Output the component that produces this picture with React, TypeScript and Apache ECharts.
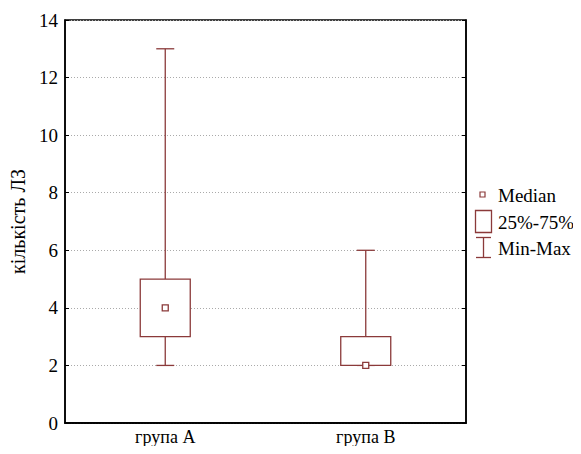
import React, { useEffect, useRef } from "react";
import * as echarts from "echarts";

const categories = ["група A", "група B"];
const minValues = [2, 2];
const q1Values = [3, 2];
const medianValues = [4, 2];
const q3Values = [5, 3];
const maxValues = [13, 6];
const yTicks = { min: 0, max: 14, interval: 2 };
const legendLabels = ["Median", "25%-75%", "Min-Max"];

const COLOR = "#8b3a3a";
const FONT = "Liberation Serif";

export default function App() {
  const ref = useRef<HTMLDivElement>(null);
  useEffect(() => {
    if (!ref.current) return;
    const chart = echarts.init(ref.current, null, { renderer: "svg" });
    const data = categories.map((_, i) => [
      i,
      minValues[i],
      q1Values[i],
      medianValues[i],
      q3Values[i],
      maxValues[i],
    ]);
    const txt = (text: string, y: number) => ({
      type: "text",
      x: 498,
      y,
      style: { text, fill: "#000", fontFamily: FONT, fontSize: 19, verticalAlign: "middle" },
    });
    const option: any = {
      animation: false,
      backgroundColor: "#fff",
      textStyle: { fontFamily: FONT },
      grid: {
        left: 65,
        top: 20,
        right: 115,
        bottom: 31,
        show: true,
        borderColor: "#000",
        borderWidth: 1.5,
      },
      xAxis: [
        {
          type: "category",
          data: categories,
          axisLine: { lineStyle: { color: "#000", width: 1.5 } },
          axisTick: { inside: true, alignWithLabel: true, length: 4, lineStyle: { color: "#000" } },
          axisLabel: { color: "#000", fontFamily: FONT, fontSize: 18, margin: 5 },
        },
        {
          type: "category",
          position: "top",
          data: categories,
          axisLine: { lineStyle: { color: "#000", width: 1.5 } },
          axisTick: { inside: true, alignWithLabel: true, length: 4, lineStyle: { color: "#000" } },
          axisLabel: { show: false },
        },
      ],
      yAxis: [
        {
          type: "value",
          min: yTicks.min,
          max: yTicks.max,
          interval: yTicks.interval,
          name: "кількість ЛЗ",
          nameLocation: "middle",
          nameGap: 32,
          nameTextStyle: { color: "#000", fontFamily: FONT, fontSize: 20 },
          axisLine: { show: true, lineStyle: { color: "#000", width: 1.5 } },
          axisTick: { show: true, inside: true, length: 4, lineStyle: { color: "#000" } },
          axisLabel: { color: "#000", fontFamily: FONT, fontSize: 19, margin: 7 },
          splitLine: { show: true, lineStyle: { color: "#aaa", type: [1, 2], width: 1 } },
        },
        {
          type: "value",
          position: "right",
          min: yTicks.min,
          max: yTicks.max,
          interval: yTicks.interval,
          axisLine: { show: true, lineStyle: { color: "#000", width: 1.5 } },
          axisTick: { show: true, inside: true, length: 4, lineStyle: { color: "#000" } },
          axisLabel: { show: false },
          splitLine: { show: false },
        },
      ],
      series: [
        {
          type: "custom",
          xAxisIndex: 0,
          yAxisIndex: 0,
          data,
          renderItem: (params: any, api: any) => {
            const c = api.value(0);
            const pMin = api.coord([c, api.value(1)]);
            const pQ1 = api.coord([c, api.value(2)]);
            const pMed = api.coord([c, api.value(3)]);
            const pQ3 = api.coord([c, api.value(4)]);
            const pMax = api.coord([c, api.value(5)]);
            const x = pMin[0];
            const bw = 50;
            const cw = 18;
            const ms = 6;
            const ls = { stroke: COLOR, lineWidth: 1.3, fill: null };
            return {
              type: "group",
              children: [
                { type: "line", shape: { x1: x, y1: pMax[1], x2: x, y2: pQ3[1] }, style: ls },
                { type: "line", shape: { x1: x, y1: pQ1[1], x2: x, y2: pMin[1] }, style: ls },
                { type: "line", shape: { x1: x - cw / 2, y1: pMax[1], x2: x + cw / 2, y2: pMax[1] }, style: ls },
                { type: "line", shape: { x1: x - cw / 2, y1: pMin[1], x2: x + cw / 2, y2: pMin[1] }, style: ls },
                {
                  type: "rect",
                  shape: { x: x - bw / 2, y: pQ3[1], width: bw, height: pQ1[1] - pQ3[1] },
                  style: { stroke: COLOR, lineWidth: 1.3, fill: "#fff" },
                },
                {
                  type: "rect",
                  shape: { x: x - ms / 2, y: pMed[1] - ms / 2, width: ms, height: ms },
                  style: { stroke: COLOR, lineWidth: 1.3, fill: "#fff" },
                },
              ],
            };
          },
        },
      ],
      graphic: [
        { type: "rect", shape: { x: 480, y: 192, width: 5, height: 5 }, style: { stroke: COLOR, lineWidth: 1.2, fill: "#fff" } },
        txt(legendLabels[0], 195),
        { type: "rect", shape: { x: 475.5, y: 210.5, width: 16, height: 22 }, style: { stroke: COLOR, lineWidth: 1.3, fill: "#fff" } },
        txt(legendLabels[1], 222),
        { type: "line", shape: { x1: 476, y1: 237.5, x2: 491, y2: 237.5 }, style: { stroke: COLOR, lineWidth: 1.3 } },
        { type: "line", shape: { x1: 483.5, y1: 237.5, x2: 483.5, y2: 257.5 }, style: { stroke: COLOR, lineWidth: 1.3 } },
        { type: "line", shape: { x1: 476, y1: 257.5, x2: 491, y2: 257.5 }, style: { stroke: COLOR, lineWidth: 1.3 } },
        txt(legendLabels[2], 248),
      ],
    };
    chart.setOption(option);
    return () => chart.dispose();
  }, []);
  return <div ref={ref} style={{ width: 581, height: 454, margin: -8 }} />;
}
